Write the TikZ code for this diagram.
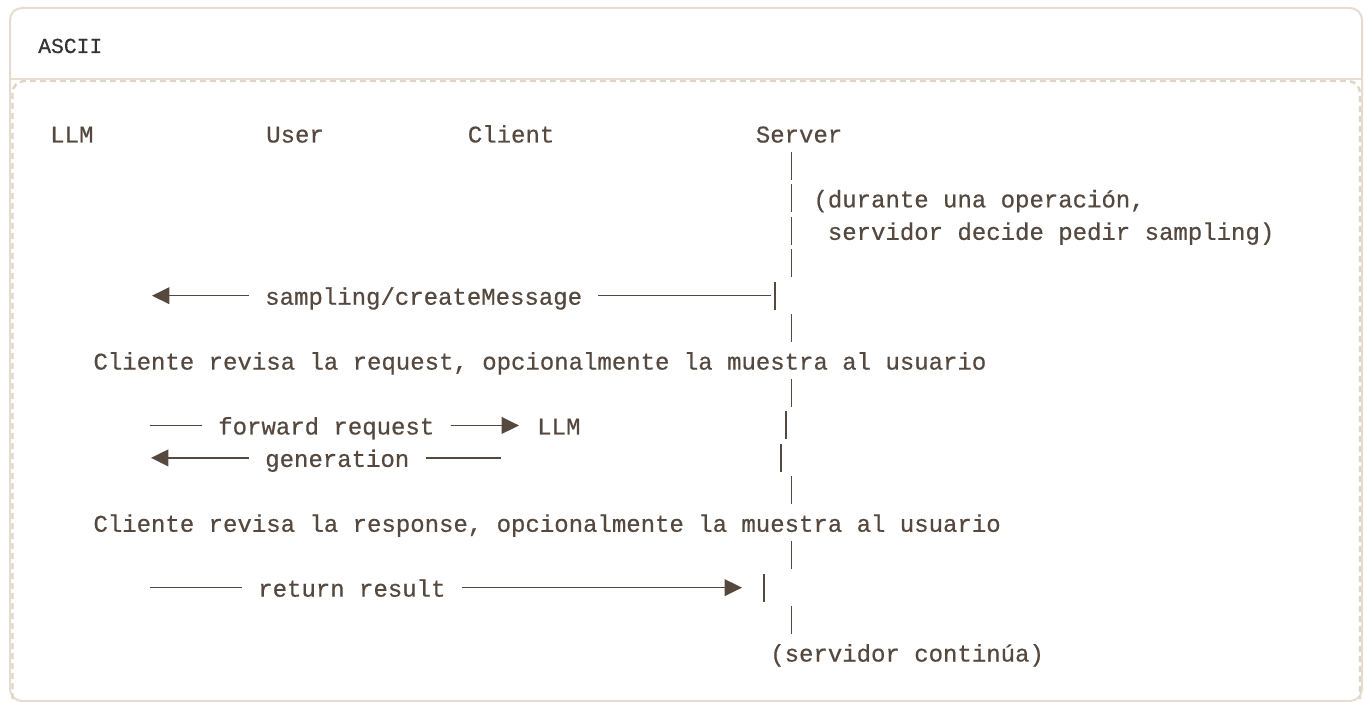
\documentclass[tikz,border=0pt]{standalone}
\usepackage{fontspec}
\usepackage{tikz}
\usetikzlibrary{arrows.meta}
\newfontfamily\asciifont[FakeBold=0.5]{Liberation Mono}
\newcommand{\asciisize}{\asciifont\fontsize{18pt}{20pt}\selectfont}
\newcommand{\titlesize}{\asciifont\fontsize{16pt}{18pt}\selectfont}
\definecolor{ink}{HTML}{54483F}
\definecolor{headink}{HTML}{333333}
\definecolor{frame}{HTML}{E7DCCF}
\definecolor{dashframe}{HTML}{E2D5C5}
\def\colw{14.4}
\def\rowh{32.44}
\newcommand{\colx}[1]{50+\colw*#1}
\newcommand{\rowy}[1]{101.06+\rowh*#1}

\begin{document}
\begin{tikzpicture}[x=0.75pt,y=-0.75pt]
    \tikzstyle{txt}=[anchor=west,inner sep=0pt,text=ink,font=\asciisize,text height=16pt,text depth=2.5pt]
    \tikzstyle{msg}=[txt,inner xsep=12pt]
    \tikzstyle{wire}=[draw=ink,line width=1.2pt]
    \tikzstyle{tip}=[wire,-{Triangle[length=13pt,width=12.5pt]}]
    \tikzstyle{life}=[draw=ink,line width=1.2pt]

    % Card with its header strip
    \useasboundingbox (0,0) rectangle (1364,702);
    \fill[white] (0,0) rectangle (1364,702);
    \draw[frame,line width=1.5pt,rounded corners=9pt] (10,8) rectangle (1362,701);
    \draw[frame,line width=1.5pt] (10,79) -- (1362,79);
    \draw[dashframe,line width=1.8pt,dash pattern=on 4.5pt off 3pt,rounded corners=9pt]
        (12.5,699) -- (12.5,81) -- (1360,81) -- (1360,699);
    \node[anchor=base west,inner sep=0pt,text=headink,font=\titlesize] (title) at (38,53) {ASCII};

    % Participants along the top row
    \node[txt] (llm)    at ({\colx{0}},{\rowy{1}})  {LLM};
    \node[txt] (user)   at ({\colx{15}},{\rowy{1}}) {User};
    \node[txt] (client) at ({\colx{29}},{\rowy{1}}) {Client};
    \node[txt] (server) at ({\colx{49}},{\rowy{1}}) {Server};

    % Server lifeline, one bar per row
    \foreach \r in {2,3,4,5,7,9,12,14,16}
        \draw[life] ({\colx{51.5}},{\rowy{\r}-14}) -- ({\colx{51.5}},{\rowy{\r}+14});

    % Bars that sit a little off where the arrows end
    \foreach \x / \r in {775/6,786/10,781/11,764/15}
        \draw[life] (\x,{\rowy{\r}-14}) -- (\x,{\rowy{\r}+14});

    % Note beside the lifeline
    \node[txt] (note1) at ({\colx{53}},{\rowy{3}}) {(durante una operación,};
    \node[txt] (note2) at ({\colx{54}},{\rowy{4}}) {servidor decide pedir sampling)};

    % Request coming from the server
    \node[msg] (create) at (249,{\rowy{6}}) {sampling/createMessage};
    \coordinate (create tip) at (152,{\rowy{6}});
    \coordinate (create end) at (771,{\rowy{6}});
    \draw[tip] (create.west) -- (create tip);
    \draw[wire] (create end) -- (create.east);

    \node[txt] (review1) at ({\colx{3}},{\rowy{8}}) {Cliente revisa la request, opcionalmente la muestra al usuario};

    % Round trip to the model
    \coordinate (fwd start) at (150,{\rowy{10}});
    \node[msg] (fwd) at (202,{\rowy{10}}) {forward request};
    \node[txt] (llm2) at (537,{\rowy{10}}) {LLM};
    \draw[wire] (fwd start) -- (fwd.west);
    \draw[tip,shorten >=13.5pt] (fwd.east) -- (llm2.west);

    \node[msg] (gen) at (249,{\rowy{11}}) {generation};
    \coordinate (gen tip) at (151,{\rowy{11}});
    \coordinate (gen end) at (501,{\rowy{11}});
    \draw[tip] (gen.west) -- (gen tip);
    \draw[wire] (gen.east) -- (gen end);

    \node[txt] (review2) at ({\colx{3}},{\rowy{13}}) {Cliente revisa la response, opcionalmente la muestra al usuario};

    % Result handed back to the server
    \coordinate (ret start) at (150,{\rowy{15}});
    \node[msg] (ret) at (242,{\rowy{15}}) {return result};
    \coordinate (ret tip) at (742,{\rowy{15}});
    \draw[wire] (ret start) -- (ret.west);
    \draw[tip] (ret.east) -- (ret tip);

    \node[txt] (cont) at ({\colx{50}},{\rowy{17}}) {(servidor continúa)};
\end{tikzpicture}
\end{document}
